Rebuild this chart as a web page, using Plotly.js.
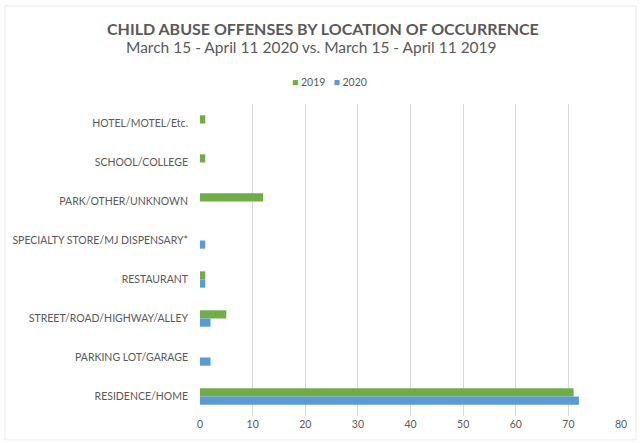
<!DOCTYPE html>
<html><head><meta charset="utf-8">
<script src="https://cdn.plot.ly/plotly-3.0.1.min.js"></script>
<style>html,body{margin:0;padding:0;background:#fff;}#chart{width:640px;height:443px;}</style>
</head><body><div id="chart"></div>
<script>
const categories = ["HOTEL/MOTEL/Etc.", "SCHOOL/COLLEGE", "PARK/OTHER/UNKNOWN", "SPECIALTY STORE/MJ DISPENSARY*", "RESTAURANT", "STREET/ROAD/HIGHWAY/ALLEY", "PARKING LOT/GARAGE", "RESIDENCE/HOME"];
const values2019 = [1, 1, 12, 0, 1, 5, 0, 71];
const values2020 = [0, 0, 0, 1, 1, 2, 2, 72];
const seriesNames = ["2019", "2020"];
const seriesColors = ["#70AD47", "#5B9BD5"];
const xTicks = [0, 10, 20, 30, 40, 50, 60, 70, 80];

const font = "Lato, 'Open Sans', sans-serif";
const traces = [
  {type: "bar", orientation: "h", name: seriesNames[0], y: categories, x: values2019, marker: {color: seriesColors[0]}},
  {type: "bar", orientation: "h", name: seriesNames[1], y: categories, x: values2020, marker: {color: seriesColors[1]}}
];
const plotH = 443 - 104 - 27;
const toPaperY = py => (443 - 27 - py) / plotH;
const plotW = 640 - 200 - 19;
const toPaperX = px => (px - 200) / plotW;
const legendText = seriesNames.map((n, i) => `<span style="color:${seriesColors[i]}">■</span> ${n}`).join("&nbsp;&nbsp;&nbsp;");
const layout = {
  width: 640, height: 443,
  margin: {l: 200, r: 19, t: 104, b: 27},
  paper_bgcolor: "#fff", plot_bgcolor: "#fff",
  barmode: "group", bargap: 0.58, bargroupgap: 0,
  font: {family: font, color: "#595959"},
  showlegend: false,
  xaxis: {range: [0, 80], tickvals: xTicks, showgrid: true, gridcolor: "#D9D9D9", gridwidth: 1, zeroline: false, showline: false, ticks: "", tickfont: {size: 10.5, color: "#595959"}, fixedrange: true},
  yaxis: {autorange: "reversed", type: "category", showgrid: false, zeroline: false, showline: false, ticks: "", ticklabelstandoff: 11, tickfont: {size: 10.5, color: "#595959"}},
  annotations: [
    {text: "<b>CHILD ABUSE OFFENSES BY LOCATION OF OCCURRENCE</b>", xref: "paper", yref: "paper", x: toPaperX(323), y: toPaperY(28), xanchor: "center", yanchor: "middle", showarrow: false, font: {size: 16, color: "#595959", family: font}},
    {text: "March 15 - April 11 2020 vs. March 15 - April 11 2019", xref: "paper", yref: "paper", x: toPaperX(311), y: toPaperY(47), xanchor: "center", yanchor: "middle", showarrow: false, font: {size: 15.5, color: "#595959", family: font}},
    {text: legendText, xref: "paper", yref: "paper", x: toPaperX(329), y: toPaperY(82), xanchor: "center", yanchor: "middle", showarrow: false, font: {size: 10.5, color: "#595959", family: font}}
  ],
  shapes: [
    {type: "rect", xref: "paper", yref: "paper", x0: toPaperX(5), x1: toPaperX(636), y0: toPaperY(440), y1: toPaperY(6), line: {color: "#EBEBEB", width: 1}, fillcolor: "rgba(0,0,0,0)", layer: "below"}
  ]
};
Plotly.newPlot("chart", traces, layout, {displayModeBar: false, staticPlot: true});
</script></body></html>
